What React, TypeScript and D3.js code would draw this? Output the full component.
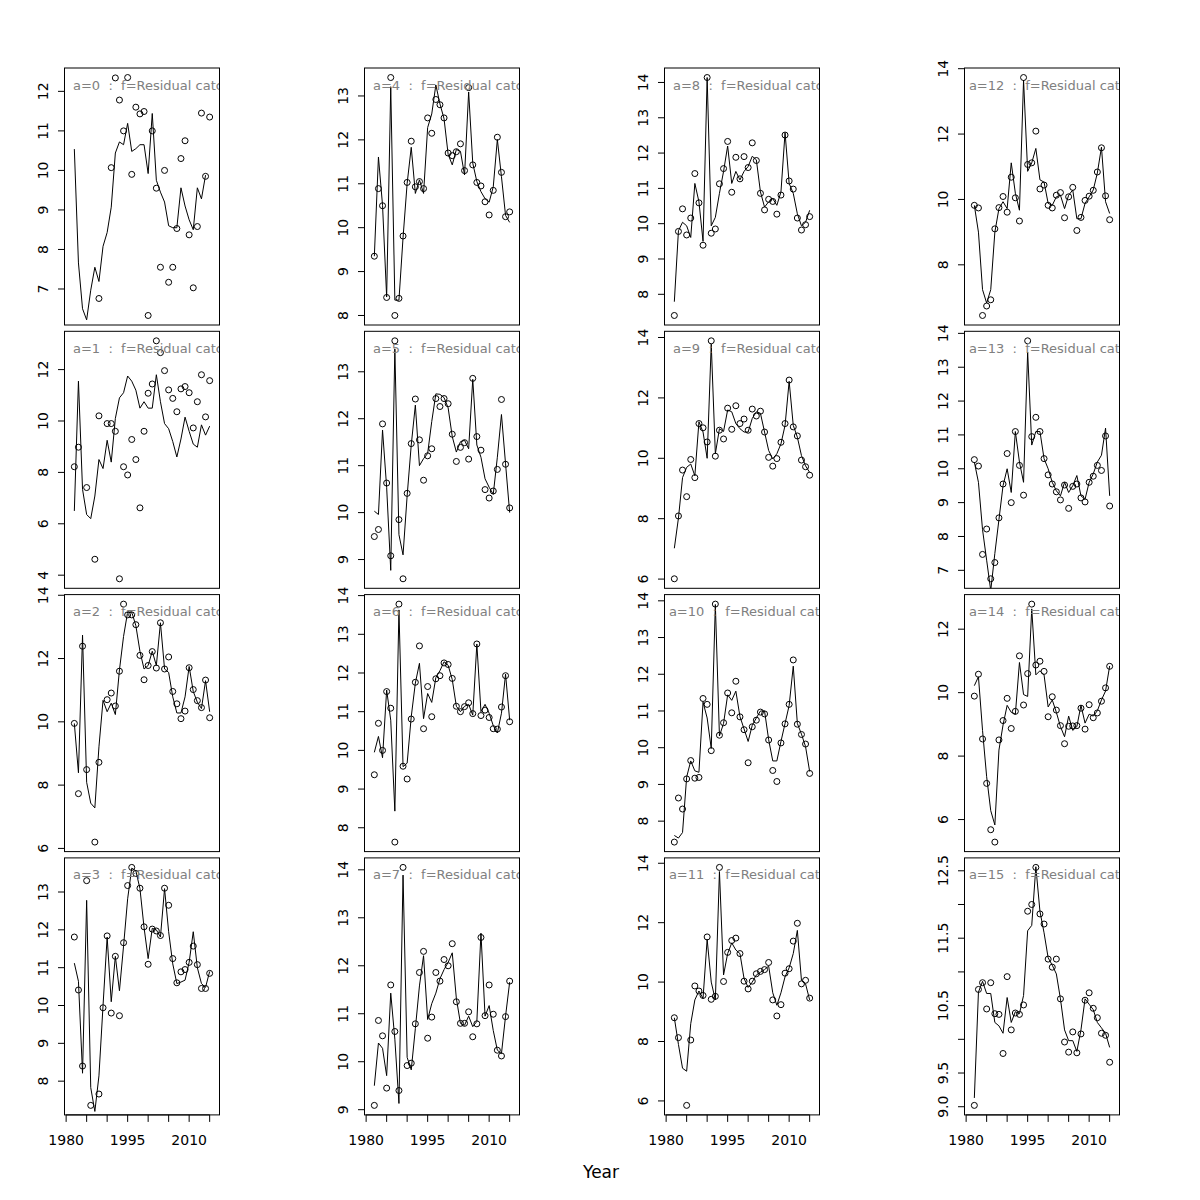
import React from "react";
import * as d3 from "d3";

// ---------- data ----------
const YEARS = [1982, 1983, 1984, 1985, 1986, 1987, 1988, 1989, 1990, 1991, 1992, 1993, 1994, 1995, 1996, 1997, 1998,
  1999, 2000, 2001, 2002, 2003, 2004, 2005, 2006, 2007, 2008, 2009, 2010, 2011, 2012, 2013, 2014, 2015];
const X_LIMITS = [1981, 2016];
const X_TICKS = [1980, 1985, 1990, 1995, 2000, 2005, 2010, 2015];
const X_LABEL = "Year";
const LABEL_SUFFIX = "  :  f=Residual catch";

type V = number | null;
const obs0: V[] = [null, null, null, null, null, null, 6.76, null, null, 10.07, 12.34, 11.78, 11.0, 12.35, 9.9, 11.6, 11.43, 11.49, 6.33, 11.0, 9.55, 7.55, 10.0, 7.17, 7.55, 8.53, 10.3, 10.75, 8.37, 7.03, 8.58, 11.45, 9.85, 11.35];
const fit0: V[] = [10.54, 7.66, 6.5, 6.22, 6.97, 7.55, 7.19, 8.08, 8.43, 9.07, 10.44, 10.72, 10.65, 11.19, 10.48, 10.55, 10.65, 10.65, 9.92, 11.44, 9.75, 9.45, 9.2, 8.6, 8.55, 8.55, 9.56, 9.1, 8.75, 8.5, 9.56, 9.28, 9.88, null];
const obs1: V[] = [8.22, 8.98, null, 7.41, null, 4.62, 10.2, null, 9.9, 9.9, 9.6, 3.86, 8.22, 7.9, 9.28, 8.5, 6.62, 9.6, 11.08, 11.44, 13.12, 12.66, 11.96, 11.21, 10.88, 10.36, 11.25, 11.34, 11.1, 9.73, 10.75, 11.8, 10.16, 11.57];
const fit1: V[] = [6.5, 11.55, 7.34, 6.36, 6.2, 7.08, 8.5, 8.15, 9.25, 8.4, 10.1, 10.9, 11.1, 11.75, 11.55, 11.2, 10.5, 10.75, 10.5, 10.5, 11.8, 10.75, 9.9, 9.7, 9.2, 8.6, 9.3, 10.15, 9.6, 9.1, 8.98, 9.85, 9.45, 9.8];
const obs2: V[] = [9.95, 7.73, 12.39, 8.49, null, 6.2, 8.72, null, 10.7, 10.91, 10.5, 11.6, 13.72, 13.38, 13.38, 13.07, 12.1, 11.33, 11.78, 12.22, 11.7, 13.13, 11.67, 12.05, 10.96, 10.57, 10.1, 10.34, 11.71, 11.02, 10.67, 10.45, 11.32, 10.13];
const fit2: V[] = [9.95, 8.39, 12.74, 8.09, 7.43, 7.28, 9.21, 10.68, 10.32, 10.59, 10.23, 11.64, 12.7, 13.47, 13.47, 13.04, 12.23, 11.67, 11.78, 12.23, 11.78, 13.13, 11.67, 11.56, 10.79, 10.28, 10.28, 10.79, 11.75, 10.96, 10.62, 10.42, 11.3, 10.32];
const obs3: V[] = [11.81, 10.41, 8.4, 13.3, 7.36, null, 7.66, 9.94, 11.84, 9.8, 11.3, 9.73, 11.66, 13.17, 13.65, 13.49, 13.1, 12.08, 11.09, 12.02, 11.97, 11.85, 13.1, 12.65, 11.24, 10.6, 10.89, 10.95, 11.14, 11.57, 11.08, 10.45, 10.45, 10.85];
const fit3: V[] = [11.12, 10.64, 8.21, 12.78, 7.83, 7.2, 8.14, 10.0, 11.81, 10.1, 11.3, 10.39, 11.57, 12.82, 13.63, 13.56, 13.09, 12.06, 11.24, 12.04, 12.0, 11.81, 13.09, 11.95, 11.1, 10.58, 10.62, 10.67, 11.14, 11.95, 11.0, 10.58, 10.48, 10.9];
const obs4: V[] = [9.35, 10.89, 10.5, 8.41, 13.42, 8.0, 8.39, 9.81, 11.03, 11.97, 10.93, 11.05, 10.89, 12.5, 12.15, 12.92, 12.8, 12.5, 11.7, 11.64, 11.73, 11.91, 11.3, 13.19, 11.43, 11.03, 10.95, 10.59, 10.29, 10.85, 12.06, 11.26, 10.25, 10.36];
const fit4: V[] = [9.35, 11.61, 10.51, 8.42, 13.21, 8.35, 8.35, 9.77, 11.01, 11.83, 10.78, 11.09, 10.78, 12.28, 12.59, 13.25, 12.82, 12.48, 11.67, 11.43, 11.78, 11.74, 11.2, 13.09, 11.47, 11.05, 10.82, 10.66, 10.58, 10.93, 12.01, 11.16, 10.28, 10.12];
const obs5: V[] = [9.49, 9.64, 11.89, 10.63, 9.08, 13.66, 9.85, 8.59, 10.41, 11.47, 12.42, 11.55, 10.69, 11.21, 11.36, 12.43, 12.26, 12.43, 12.32, 11.67, 11.09, 11.39, 11.49, 11.14, 12.86, 11.62, 11.33, 10.49, 10.31, 10.46, 10.92, 12.41, 11.03, 10.1];
const fit5: V[] = [10.03, 9.96, 11.76, 10.54, 8.77, 13.49, 9.53, 9.1, 10.36, 11.44, 12.29, 11.0, 11.15, 11.26, 11.94, 12.53, 12.52, 12.45, 12.23, 11.62, 11.29, 11.51, 11.54, 11.36, 12.84, 11.44, 11.18, 10.72, 10.54, 10.39, 11.18, 12.09, 11.04, 10.0];
const obs6: V[] = [9.37, 10.7, 10.0, 11.52, 11.09, 7.63, 13.78, 9.59, 9.26, 10.81, 11.76, 12.7, 10.56, 11.65, 10.87, 11.85, 11.93, 12.26, 12.22, 11.86, 11.14, 11.0, 11.13, 11.23, 10.95, 12.75, 10.9, 11.04, 10.85, 10.56, 10.55, 11.12, 11.93, 10.74];
const fit6: V[] = [9.95, 10.36, 9.81, 11.56, 10.78, 8.43, 13.63, 9.58, 9.67, 10.87, 11.74, 12.25, 10.82, 11.47, 11.24, 11.88, 12.06, 12.29, 12.2, 11.83, 11.14, 11.0, 11.14, 11.19, 10.91, 12.75, 11.0, 11.19, 10.96, 10.64, 10.45, 10.96, 11.97, 10.78];
const obs7: V[] = [9.09, 10.86, 10.54, 9.45, 11.6, 10.63, 9.4, 14.05, 9.92, 9.97, 10.79, 11.86, 12.3, 10.49, 10.93, 11.86, 11.68, 12.13, 12.0, 12.46, 11.25, 10.8, 10.8, 11.04, 10.52, 10.79, 12.59, 10.96, 11.6, 10.99, 10.24, 10.12, 10.94, 11.68];
const fit7: V[] = [9.5, 10.39, 10.28, 9.71, 11.43, 10.47, 9.13, 13.89, 10.09, 9.83, 10.69, 11.58, 12.21, 10.88, 11.21, 11.43, 11.73, 11.92, 12.07, 12.27, 11.32, 10.8, 10.76, 10.95, 10.73, 10.84, 12.68, 10.95, 11.17, 10.65, 10.24, 10.17, 10.95, 11.66];
const obs8: V[] = [7.4, 9.78, 10.42, 9.68, 10.16, 11.42, 10.59, 9.39, 14.14, 9.73, 9.85, 11.13, 11.56, 12.33, 10.89, 11.88, 11.27, 11.9, 11.59, 12.29, 11.79, 10.86, 10.39, 10.69, 10.63, 10.27, 10.81, 12.51, 11.21, 10.98, 10.16, 9.82, 9.97, 10.2];
const fit8: V[] = [7.79, 9.8, 10.04, 9.94, 9.61, 11.14, 10.62, 9.5, 14.14, 9.94, 10.18, 10.86, 11.48, 12.2, 11.14, 11.48, 11.24, 11.48, 11.62, 11.91, 11.81, 10.9, 10.47, 10.62, 10.71, 10.52, 10.9, 12.58, 11.14, 10.86, 10.28, 9.94, 10.04, 10.38];
const obs9: V[] = [6.01, 8.09, 9.61, 8.73, 9.96, 9.36, 11.15, 11.01, 10.54, 13.89, 10.07, 10.93, 10.64, 11.66, 10.96, 11.74, 11.15, 11.3, 10.93, 11.63, 11.4, 11.56, 10.87, 10.03, 9.74, 9.99, 10.53, 11.15, 12.59, 11.04, 10.74, 9.94, 9.72, 9.44];
const fit9: V[] = [7.02, 8.02, 9.36, 9.7, 9.81, 9.42, 11.21, 10.87, 10.0, 13.78, 10.15, 10.98, 10.89, 11.6, 11.54, 11.15, 10.98, 10.87, 10.87, 11.32, 11.54, 11.49, 10.87, 10.26, 9.98, 10.15, 10.48, 11.09, 12.55, 11.09, 10.7, 10.09, 9.75, 9.53];
const obs10: V[] = [7.43, 8.63, 8.33, 9.15, 9.65, 9.17, 9.19, 11.34, 11.18, 9.92, 13.91, 10.34, 10.68, 11.49, 10.95, 11.81, 10.84, 10.49, 9.59, 10.57, 10.75, 10.97, 10.92, 10.21, 9.38, 9.08, 10.13, 10.65, 11.18, 12.39, 10.64, 10.36, 10.1, 9.3];
const fit10: V[] = [7.61, 7.54, 7.69, 9.2, 9.64, 9.37, 9.33, 11.24, 10.81, 9.98, 13.9, 10.32, 10.66, 11.44, 11.29, 11.54, 10.85, 10.51, 10.17, 10.61, 10.81, 11.0, 11.0, 10.22, 9.64, 9.64, 10.17, 10.66, 11.15, 12.22, 10.66, 10.37, 10.03, 9.35];
const obs11: V[] = [8.8, 8.13, null, 5.85, 8.05, 9.87, 9.7, 9.55, 11.52, 9.42, 9.52, 13.86, 10.02, 11.0, 11.4, 11.48, 10.96, 10.03, 9.77, 10.03, 10.28, 10.36, 10.42, 10.66, 9.4, 8.86, 9.24, 10.3, 10.45, 11.38, 11.98, 9.94, 10.06, 9.46];
const fit11: V[] = [8.8, 7.9, 7.1, 7.0, 8.6, 9.4, 9.7, 9.45, 11.44, 10.0, 9.4, 13.72, 10.24, 10.96, 11.32, 11.08, 10.96, 10.12, 9.82, 10.0, 10.24, 10.33, 10.42, 10.54, 9.64, 9.22, 9.64, 10.18, 10.48, 10.96, 11.74, 10.06, 9.94, 9.4];
const obs12: V[] = [9.82, 9.74, 6.45, 6.74, 6.93, 9.1, 9.75, 10.09, 9.61, 10.68, 10.05, 9.34, 13.73, 11.07, 11.12, 12.09, 10.32, 10.44, 9.82, 9.74, 10.13, 10.21, 9.44, 10.08, 10.37, 9.05, 9.45, 9.97, 10.1, 10.28, 10.84, 11.58, 10.11, 9.38];
const fit12: V[] = [9.82, 9.0, 7.24, 6.83, 7.24, 9.0, 9.72, 9.93, 9.72, 11.12, 10.19, 9.67, 13.65, 10.86, 11.12, 11.56, 10.6, 10.53, 9.88, 9.82, 10.08, 10.13, 9.72, 10.13, 10.29, 9.41, 9.41, 9.88, 10.08, 10.29, 10.81, 11.6, 9.93, 9.57];
const obs13: V[] = [10.27, 10.08, 7.47, 8.22, 6.75, 7.23, 8.55, 9.55, 10.45, 9.0, 11.1, 10.1, 9.22, 13.78, 10.95, 11.52, 11.1, 10.3, 9.82, 9.55, 9.32, 9.08, 9.52, 8.83, 9.48, 9.55, 9.14, 9.02, 9.6, 9.78, 10.1, 9.95, 10.97, 8.9];
const fit13: V[] = [10.2, 9.6, 8.2, 7.3, 6.4, 7.5, 8.5, 9.5, 10.0, 9.3, 11.1, 10.2, 9.6, 13.45, 10.7, 11.1, 11.1, 10.3, 10.0, 9.6, 9.35, 9.2, 9.6, 9.3, 9.5, 9.8, 9.2, 9.1, 9.6, 9.85, 10.2, 10.4, 11.2, 9.2];
const obs14: V[] = [9.89, 10.58, 8.54, 7.14, 5.68, 5.29, 8.51, 9.12, 9.82, 8.87, 9.41, 11.16, 9.61, 10.6, 12.79, 10.87, 10.99, 10.67, 9.24, 9.87, 9.45, 8.96, 8.39, 8.94, 8.95, 8.96, 9.51, 8.85, 9.62, 9.21, 9.36, 9.73, 10.15, 10.83];
const fit14: V[] = [10.22, 10.5, 8.81, 7.35, 6.28, 5.83, 8.19, 8.98, 9.6, 9.38, 9.32, 10.95, 9.94, 9.88, 12.64, 10.56, 10.69, 10.56, 9.55, 9.77, 9.38, 8.93, 8.61, 9.26, 8.81, 8.93, 9.6, 9.04, 9.32, 9.26, 9.43, 9.77, 10.05, 10.84];
const obs15: V[] = [9.02, 10.74, 10.84, 10.45, 10.84, 10.38, 10.37, 9.79, 10.93, 10.14, 10.39, 10.37, 10.51, 11.9, 12.0, 12.55, 11.86, 11.71, 11.19, 11.07, 11.19, 10.6, 9.96, 9.81, 10.11, 9.8, 10.08, 10.58, 10.69, 10.46, 10.32, 10.09, 10.06, 9.66];
const fit15: V[] = [9.13, 10.7, 10.86, 10.68, 10.68, 10.25, 10.2, 10.09, 10.62, 10.25, 10.41, 10.38, 10.65, 11.61, 11.69, 12.56, 11.9, 11.58, 11.21, 11.1, 10.97, 10.6, 10.14, 9.98, 9.98, 9.82, 10.14, 10.6, 10.52, 10.44, 10.25, 10.17, 10.09, 9.88];

const yt0 = [7, 8, 9, 10, 11, 12];
const yt1 = [4, 6, 8, 10, 12];
const yt2 = [6, 8, 10, 12, 14];
const yt3 = [8, 9, 10, 11, 12, 13];
const yt4 = [8, 9, 10, 11, 12, 13];
const yt5 = [9, 10, 11, 12, 13];
const yt6 = [8, 9, 10, 11, 12, 13, 14];
const yt7 = [9, 10, 11, 12, 13, 14];
const yt8 = [8, 9, 10, 11, 12, 13, 14];
const yt9 = [6, 8, 10, 12, 14];
const yt10 = [8, 9, 10, 11, 12, 13, 14];
const yt11 = [6, 8, 10, 12, 14];
const yt12 = [8, 10, 12, 14];
const yt13 = [7, 8, 9, 10, 11, 12, 13, 14];
const yt14 = [6, 8, 10, 12];
const yt15 = [9, 9.5, 10, 10.5, 11, 11.5, 12, 12.5];

const OBS = [obs0, obs1, obs2, obs3, obs4, obs5, obs6, obs7, obs8, obs9, obs10, obs11, obs12, obs13, obs14, obs15];
const FIT = [fit0, fit1, fit2, fit3, fit4, fit5, fit6, fit7, fit8, fit9, fit10, fit11, fit12, fit13, fit14, fit15];
const YTICKS = [yt0, yt1, yt2, yt3, yt4, yt5, yt6, yt7, yt8, yt9, yt10, yt11, yt12, yt13, yt14, yt15];
const YFMT_DECIMALS = [0, 0, 0, 0, 0, 0, 0, 0, 0, 0, 0, 0, 0, 0, 0, 1];

// ---------- layout ----------
const FONT = "DejaVu Sans";
const LEFT0 = 64.5;
const TOP0 = 68;
const COL_PITCH = 300;
const ROW_PITCH = 263.3;
const PW = 155;
const PH = 257;
const TICK_FS = 14;
const LABEL_FS = 13;

function textW(s: string, fs: number) {
  let w = 0;
  for (const ch of s) w += (ch === "." ? 0.318 : 0.636) * fs;
  return w;
}

// R-like removal of overlapping axis labels (gap of one "m")
function thin(ticks: number[], pos: (v: number) => number, fmt: (v: number) => string) {
  const fs = 12;
  const gap = 0.974 * fs;
  const out: number[] = [];
  let lastEnd = -Infinity;
  for (const t of ticks) {
    const p = pos(t);
    const hw = textW(fmt(t), fs) / 2;
    if (p - hw >= lastEnd + gap) {
      out.push(t);
      lastEnd = p + hw;
    }
  }
  return out;
}

function Panel({ idx }: { idx: number }) {
  const col = Math.floor(idx / 4);
  const row = idx % 4;
  const left = LEFT0 + col * COL_PITCH;
  const top = TOP0 + row * ROW_PITCH;
  const right = left + PW;
  const bottom = top + PH;

  const obs = OBS[idx];
  const fit = FIT[idx];
  const xPad = (X_LIMITS[1] - X_LIMITS[0]) * 0.04;
  const x = d3.scaleLinear().domain([X_LIMITS[0] - xPad, X_LIMITS[1] + xPad]).range([left, right]);
  const vals = obs.filter((v) => v != null) as number[];
  const [mn, mx] = d3.extent(vals) as [number, number];
  const yPad = (mx - mn) * 0.04;
  const y = d3.scaleLinear().domain([mn - yPad, mx + yPad]).range([bottom, top]);

  const line = d3
    .line<V>()
    .defined((v) => v != null)
    .x((_, i) => x(YEARS[i]))
    .y((v) => y(v as number));

  const [d0, d1] = y.domain();
  const dec = YFMT_DECIMALS[idx];
  const fmt = (v: number) => v.toFixed(dec);
  const yt = YTICKS[idx].filter((t) => t >= d0 && t <= d1);
  const ytLab = thin(yt, (v) => -y(v), fmt);

  const isBottom = row === 3;
  const xt = X_TICKS;
  const xtLab = thin(xt, (v) => x(v), (v) => String(v));
  const clipId = `clip-${idx}`;

  return (
    <g>
      <defs>
        <clipPath id={clipId}>
          <rect x={left} y={top} width={PW} height={PH} />
        </clipPath>
      </defs>
      <g clipPath={`url(#${clipId})`}>
        <path d={line(fit) || ""} fill="none" stroke="#000" strokeWidth={1} />
        {obs.map((v, i) =>
          v == null ? null : (
            <circle key={i} cx={x(YEARS[i])} cy={y(v)} r={3} fill="none" stroke="#000" strokeWidth={1} />
          )
        )}
        <text
          x={left + 87.6}
          y={top + 21.5}
          textAnchor="middle"
          fontFamily={FONT}
          fontSize={LABEL_FS}
          fill="#808080"
          style={{ whiteSpace: "pre" }}
        >
          {`a=${idx}${LABEL_SUFFIX}`}
        </text>
      </g>
      <rect x={left} y={top} width={PW} height={PH} fill="none" stroke="#000" strokeWidth={1} />
      {/* y axis */}
      {yt.map((t) => (
        <line key={`yt${t}`} x1={left} x2={left - 6.5} y1={y(t)} y2={y(t)} stroke="#000" strokeWidth={1} />
      ))}
      {ytLab.map((t) => (
        <text
          key={`yl${t}`}
          transform={`translate(${left - 17},${y(t)}) rotate(-90)`}
          textAnchor="middle"
          fontFamily={FONT}
          fontSize={TICK_FS}
          fill="#000"
        >
          {fmt(t)}
        </text>
      ))}
      {/* x axis */}
      {isBottom && (
        <g>
          <line x1={x(xt[0])} x2={x(xt[xt.length - 1])} y1={bottom} y2={bottom} stroke="#000" strokeWidth={1} />
          {xt.map((t) => (
            <line key={`xt${t}`} x1={x(t)} x2={x(t)} y1={bottom} y2={bottom + 7} stroke="#000" strokeWidth={1} />
          ))}
          {xtLab.map((t) => (
            <text key={`xl${t}`} x={x(t)} y={bottom + 30} textAnchor="middle" fontFamily={FONT} fontSize={TICK_FS} fill="#000">
              {t}
            </text>
          ))}
        </g>
      )}
    </g>
  );
}

export default function App() {
  const panels = d3.range(16);
  return (
    <svg
      width={1200}
      height={1200}
      viewBox="0 0 1200 1200"
      style={{ position: "absolute", left: 0, top: 0, background: "#fff" }}
    >
      <rect x={0} y={0} width={1200} height={1200} fill="#fff" />
      {panels.map((i) => (
        <Panel key={i} idx={i} />
      ))}
      <text x={601} y={1178} textAnchor="middle" fontFamily={FONT} fontSize={17} fill="#000">
        {X_LABEL}
      </text>
    </svg>
  );
}
